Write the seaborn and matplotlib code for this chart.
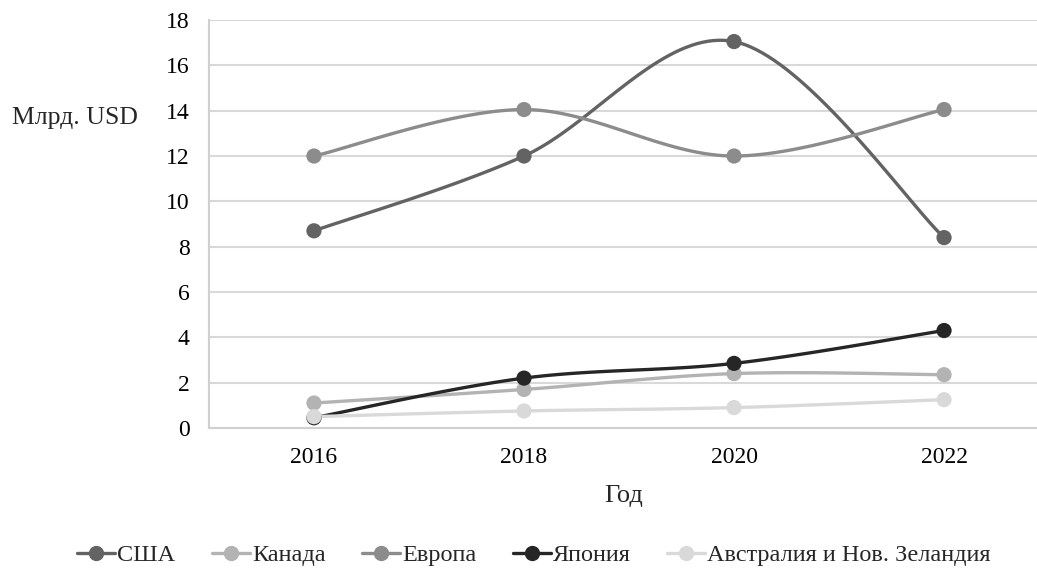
import numpy as np
import pandas as pd
import matplotlib
matplotlib.use("Agg")
import matplotlib.pyplot as plt
import seaborn as sns
from matplotlib.lines import Line2D

years = ["2016", "2018", "2020", "2022"]
usa = [8.7, 12.0, 17.05, 8.4]
canada = [1.1, 1.7, 2.4, 2.35]
europe = [12.0, 14.05, 12.0, 14.05]
japan = [0.45, 2.2, 2.85, 4.3]
australia = [0.5, 0.75, 0.9, 1.25]

series_names = ["США", "Канада", "Европа", "Япония", "Австралия и Нов. Зеландия"]
series_values = [usa, canada, europe, japan, australia]
colors = ["#636363", "#b3b3b3", "#8c8c8c", "#262626", "#d9d9d9"]

sns.set_theme(style="white")
plt.rcParams["font.family"] = ["Liberation Serif", "DejaVu Serif"]


def smooth(xs, ys, n=40):
    """Bezier smoothing through every point (Catmull-Rom style)."""
    pts = np.column_stack([xs, ys]).astype(float)
    p = np.vstack([pts[0], pts, pts[-1]])
    out = []
    t = np.linspace(0, 1, n)[:, None]
    for i in range(1, len(p) - 2):
        p0, p1, p2, p3 = p[i - 1], p[i], p[i + 1], p[i + 2]
        c1 = p1 + (p2 - p0) / 6.0
        c2 = p2 - (p3 - p1) / 6.0
        seg = ((1 - t) ** 3) * p1 + 3 * ((1 - t) ** 2) * t * c1 + 3 * (1 - t) * t ** 2 * c2 + t ** 3 * p2
        out.append(seg if i == 1 else seg[1:])
    out = np.vstack(out)
    return out[:, 0], out[:, 1]


fig = plt.figure(figsize=(10.37, 5.74), dpi=100)
ax = fig.add_axes([0.2015, 0.2544, 0.8, 0.7107])

x = np.arange(len(years))
for name, vals, col in zip(series_names, series_values, colors):
    sx, sy = smooth(x, vals)
    curve = pd.DataFrame({"x": sx, "y": sy})
    sns.lineplot(data=curve, x="x", y="y", ax=ax, color=col, linewidth=2.4,
                 sort=False, estimator=None, zorder=3)
    pts = pd.DataFrame({"x": x, "y": vals})
    sns.scatterplot(data=pts, x="x", y="y", ax=ax, color=col, s=120,
                    edgecolor="none", zorder=4)

ax.set_xlim(-0.5, 3.45)
ax.set_ylim(0, 18)
ax.set_yticks(np.arange(0, 19, 2))
ax.set_xticks(x)
ax.set_xticklabels(years)
ax.yaxis.grid(True, color="#d9d9d9", linewidth=1.5)
ax.xaxis.grid(False)
for side in ["top", "right"]:
    ax.spines[side].set_visible(False)
for side in ["left", "bottom"]:
    ax.spines[side].set_color("#d0d0d0")
    ax.spines[side].set_linewidth(1.5)
ax.tick_params(axis="both", length=0, labelsize=17, colors="black")
ax.tick_params(axis="y", pad=14)
ax.tick_params(axis="x", pad=14)
ax.set_xlabel("Год", fontsize=19, labelpad=12)
ax.set_ylabel("")
fig.text(0.012, 0.795, "Млрд. USD", fontsize=18.5, ha="left", va="center")

handles = [Line2D([0], [0], color=c, linewidth=2.4, marker="o", markersize=10)
           for c in colors]
fig.legend(handles, series_names, loc="center", bbox_to_anchor=(0.515, 0.033),
           ncol=5, frameon=False, fontsize=17.5, handlelength=1.55,
           handletextpad=0.1, columnspacing=1.5)

fig.savefig("out.png", dpi=100)
